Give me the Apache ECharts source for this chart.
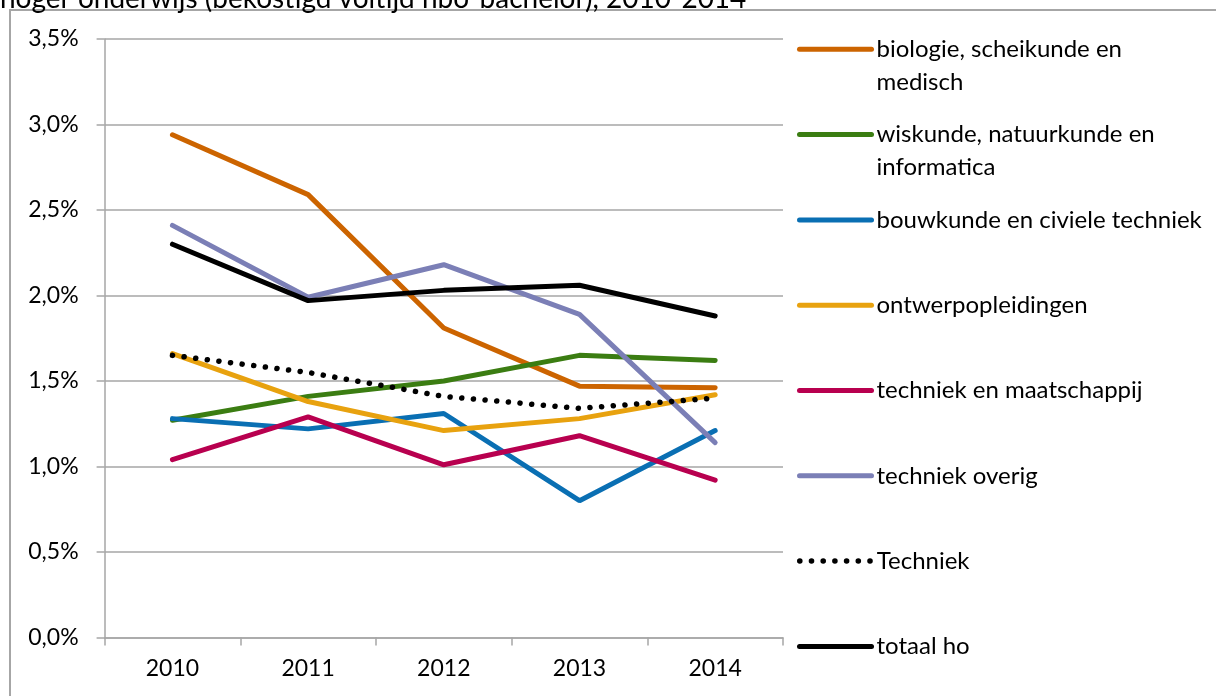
<!DOCTYPE html>
<html>
<head>
<meta charset="utf-8">
<script src="https://cdn.jsdelivr.net/npm/echarts@6/dist/echarts.min.js"></script>
<style>
  html, body { margin: 0; padding: 0; background: #fff; }
  #chart { width: 1216px; height: 696px; }
</style>
</head>
<body>
<div id="chart"></div>
<script>
const years = ['2010', '2011', '2012', '2013', '2014']

const biologie = [2.94, 2.59, 1.81, 1.47, 1.46]
const wiskunde = [1.27, 1.41, 1.50, 1.65, 1.62]
const bouwkunde = [1.28, 1.22, 1.31, 0.80, 1.21]
const ontwerp = [1.66, 1.38, 1.21, 1.28, 1.42]
const techMaatschappij = [1.04, 1.29, 1.01, 1.18, 0.92]
const techOverig = [2.41, 1.99, 2.18, 1.89, 1.14]
const techniek = [1.65, 1.55, 1.41, 1.34, 1.40]
const totaal = [2.30, 1.97, 2.03, 2.06, 1.88]

const legendLabels = [
  'biologie, scheikunde en\nmedisch',
  'wiskunde, natuurkunde en\ninformatica',
  'bouwkunde en civiele techniek',
  'ontwerpopleidingen',
  'techniek en maatschappij',
  'techniek overig',
  'Techniek',
  'totaal ho',
]

const FONT = 'Lato'

const seriesDefs = [
  { data: biologie, color: '#cc6400' },
  { data: wiskunde, color: '#3b7d12' },
  { data: bouwkunde, color: '#0a6fb3' },
  { data: ontwerp, color: '#e8a20f' },
  { data: techMaatschappij, color: '#b8004f' },
  { data: techOverig, color: '#7b7fb6' },
  { data: techniek, color: '#000000', dotted: true },
  { data: totaal, color: '#000000' },
]

const chart = echarts.init(document.getElementById('chart'))

const series = seriesDefs.map((s, i) => ({
  name: legendLabels[i].replace('\n', ' '),
  type: 'line',
  data: s.data,
  symbol: 'none',
  silent: true,
  lineStyle: {
    color: s.color,
    width: s.dotted ? 5.5 : 5,
    cap: 'round',
    type: s.dotted ? [0.1, 11.6] : 'solid',
  },
  itemStyle: { color: s.color },
}))

// one legend block per series so the items sit 85px apart like the original;
// wrapped labels get an empty first line so the icon lines up with the first text line
const legends = legendLabels.map((label, i) => {
  const wrapped = label.indexOf('\n') > -1
  const centerY = 49.3 + 85.3 * i
  return {
    data: [label.replace('\n', ' ')],
    formatter: () => (wrapped ? ' \n' + label : label),
    left: 797,
    top: centerY - (wrapped ? 49.5 : 16.5),
    padding: 0,
    itemWidth: 72,
    itemHeight: 14,
    selectedMode: false,
    itemStyle: { opacity: 0 },
    lineStyle: { width: 'inherit', cap: 'round' },
    textStyle: {
      fontFamily: FONT,
      fontSize: 24,
      lineHeight: 33,
      color: '#000',
    },
  }
})

chart.setOption({
  animation: false,
  title: {
    text: 'hoger onderwijs (bekostigd voltijd hbo-bachelor), 2010-2014',
    left: 0,
    top: -15,
    padding: 0,
    textStyle: { fontFamily: FONT, fontSize: 28, fontWeight: 'normal', color: '#000' },
  },
  graphic: [
    {
      type: 'rect',
      shape: { x: 10, y: 10, width: 1400, height: 1000 },
      style: { fill: 'none', stroke: '#a6a6a6', lineWidth: 2 },
      silent: true,
    },
  ],
  legend: legends,
  grid: {
    left: 104.6,
    right: 433,
    top: 39,
    bottom: 58.5,
  },
  xAxis: {
    type: 'category',
    data: years,
    boundaryGap: true,
    axisLine: { lineStyle: { color: '#a6a6a6', width: 1.5 } },
    axisTick: { show: true, length: 8, lineStyle: { color: '#a6a6a6', width: 1.5 } },
    axisLabel: { fontFamily: FONT, fontSize: 23, color: '#000', margin: 20 },
    splitLine: { show: false },
  },
  yAxis: {
    type: 'value',
    min: 0,
    max: 3.5,
    interval: 0.5,
    axisLine: { show: true, lineStyle: { color: '#a6a6a6', width: 1.5 } },
    axisTick: { show: true, length: 8, lineStyle: { color: '#a6a6a6', width: 1.5 } },
    axisLabel: {
      fontFamily: FONT,
      fontSize: 23,
      color: '#000',
      margin: 26,
      formatter: (v) => v.toFixed(1).replace('.', ',') + '%',
    },
    splitLine: { lineStyle: { color: '#a6a6a6', width: 1.5 } },
  },
  series,
})
</script>
</body>
</html>
